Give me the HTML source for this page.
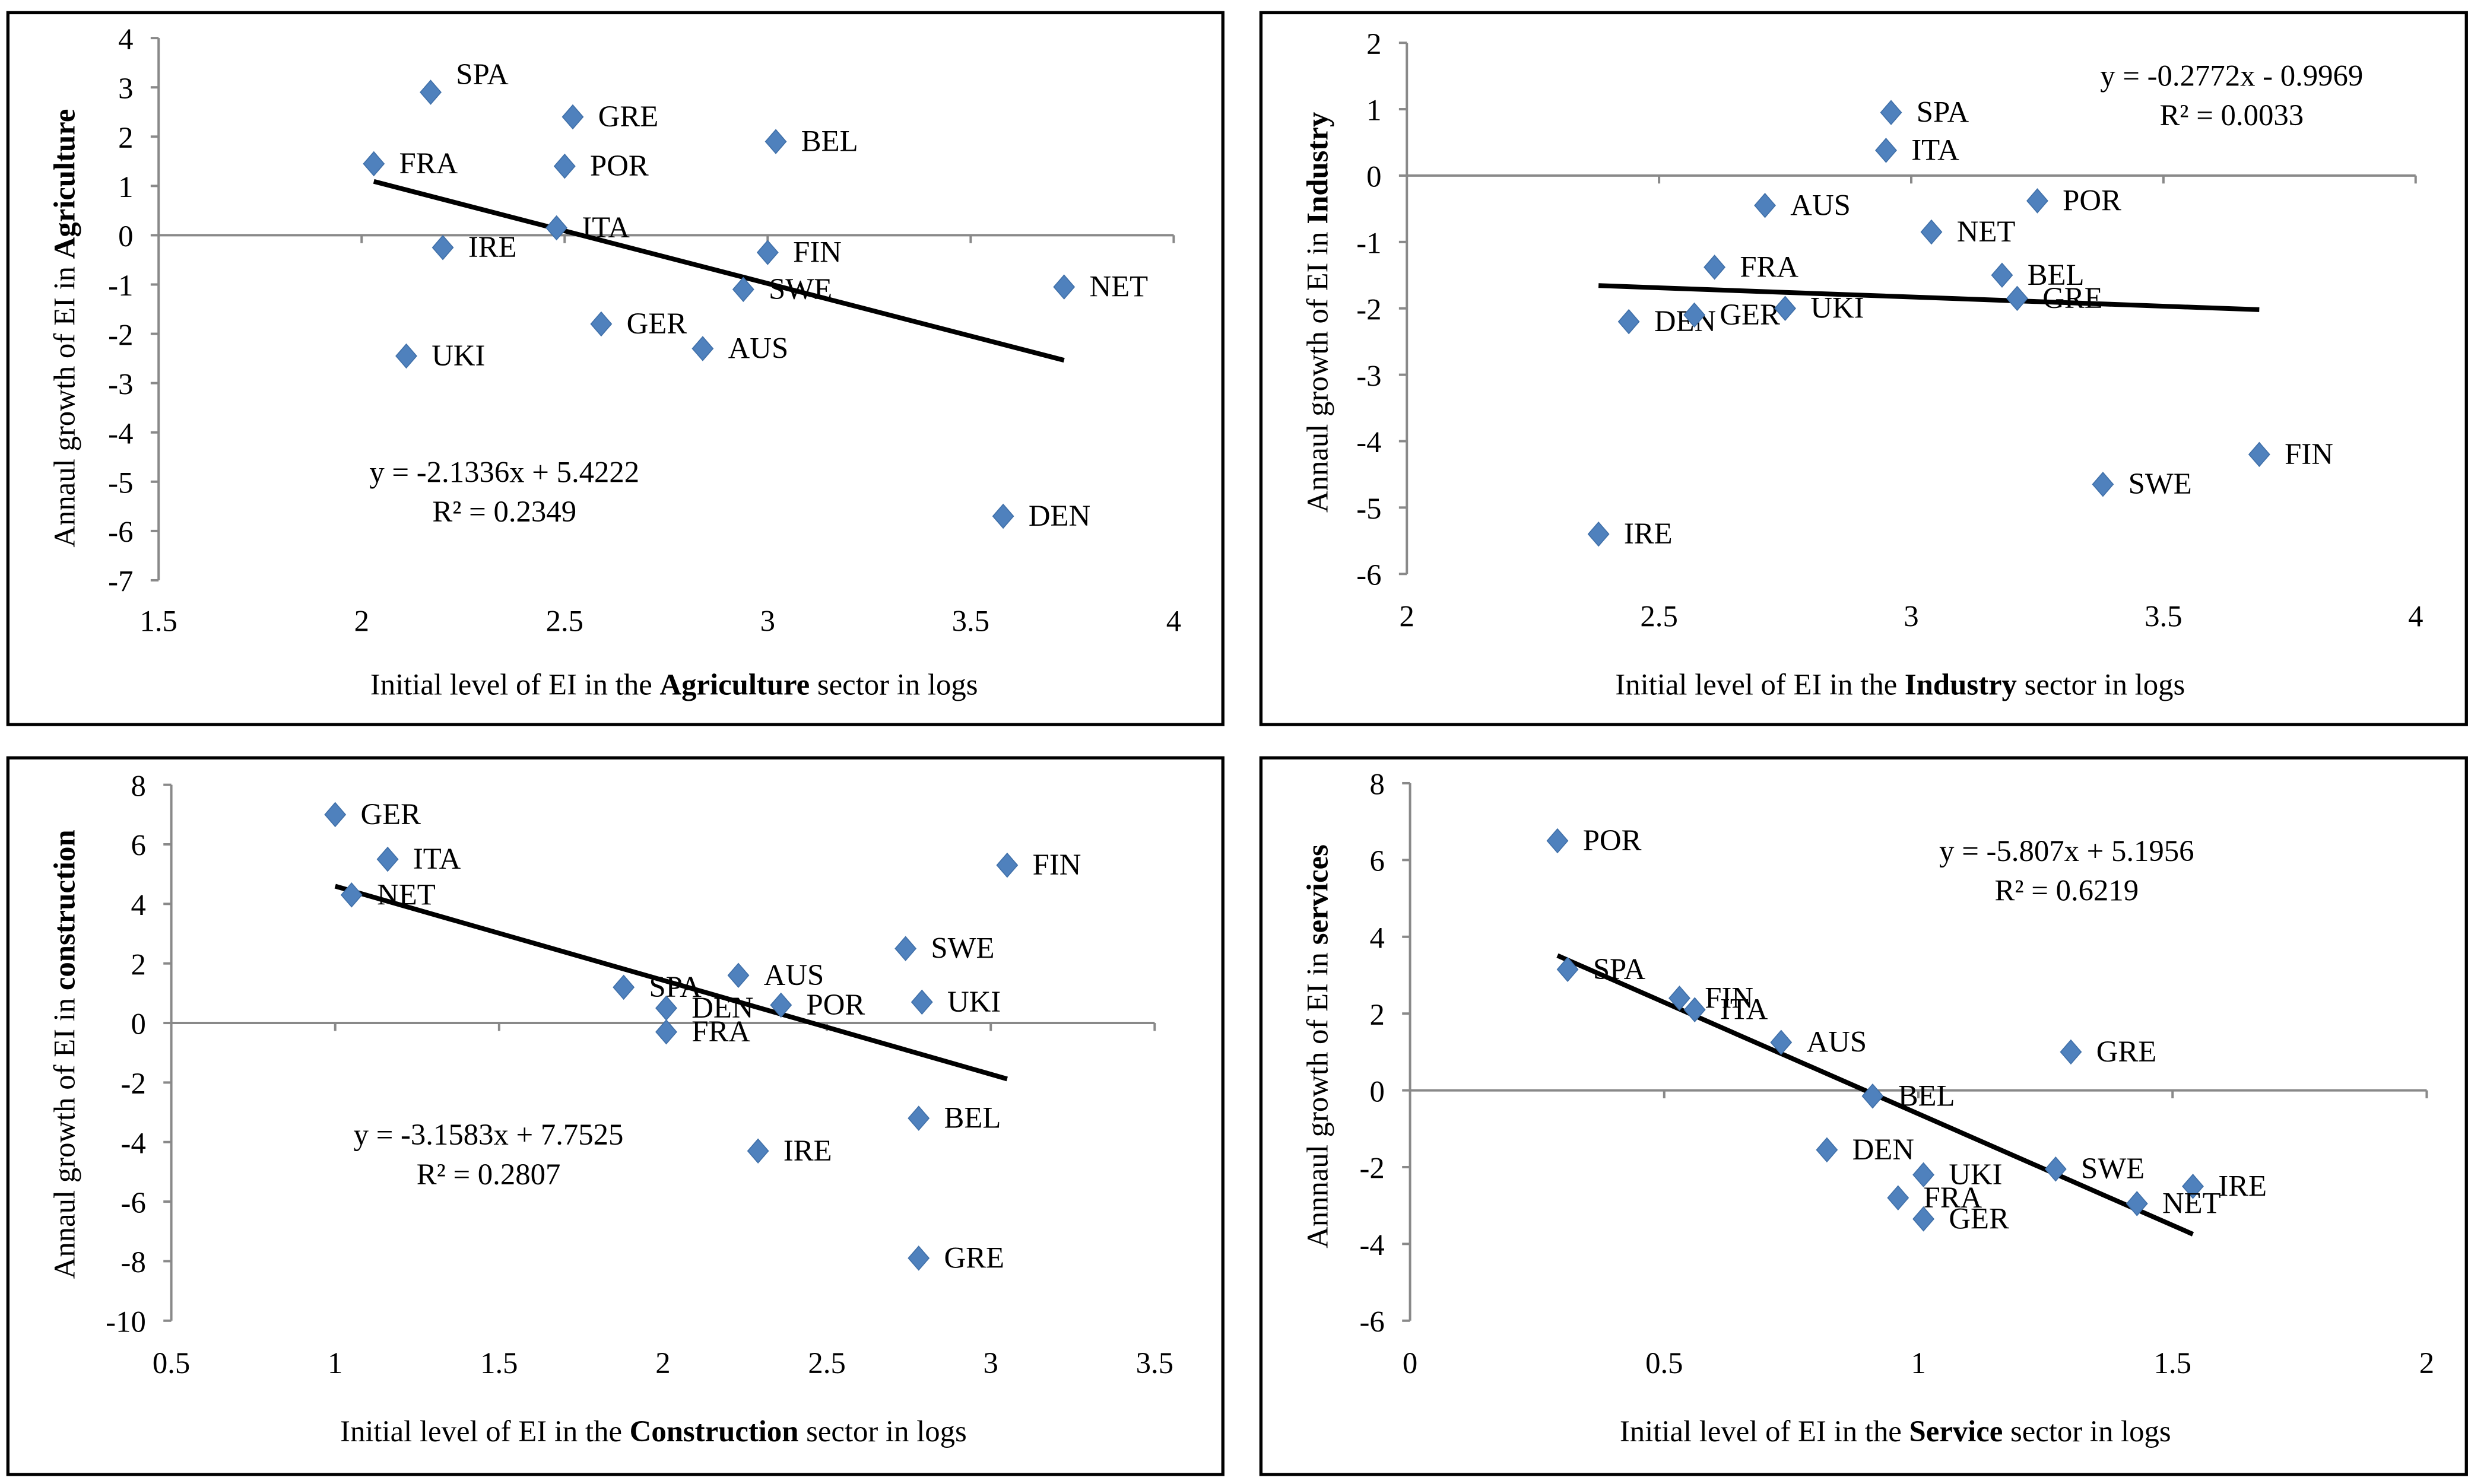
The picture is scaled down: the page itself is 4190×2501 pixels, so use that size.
<!DOCTYPE html>
<html><head><meta charset="utf-8"><style>
html,body{margin:0;padding:0;background:#fff;}
svg{display:block;font-family:"Liberation Serif",serif;}
</style></head><body>
<svg id="chart" width="4190" height="2501" viewBox="0 0 1568 936" preserveAspectRatio="none" xmlns="http://www.w3.org/2000/svg"></svg>
<script>
// Panel 1: Agriculture
const agriNames=["SPA","GRE","BEL","FRA","POR","ITA","IRE","FIN","SWE","NET","GER","AUS","UKI","DEN"];
const agriX=[2.17,2.52,3.02,2.03,2.5,2.48,2.2,3.0,2.94,3.73,2.59,2.84,2.11,3.58];
const agriY=[2.9,2.4,1.9,1.45,1.4,0.15,-0.25,-0.35,-1.1,-1.05,-1.8,-2.3,-2.45,-5.7];
const agriXTicks=[1.5,2,2.5,3,3.5,4];
const agriYTicks=[4,3,2,1,0,-1,-2,-3,-4,-5,-6,-7];
const agriTrend=[-2.1336,5.4222];
// Panel 2: Industry
const indNames=["SPA","ITA","AUS","POR","NET","FRA","BEL","DEN","GER","UKI","GRE","FIN","SWE","IRE"];
const indX=[2.96,2.95,2.71,3.25,3.04,2.61,3.18,2.44,2.57,2.75,3.21,3.69,3.38,2.38];
const indY=[0.95,0.38,-0.45,-0.38,-0.85,-1.38,-1.5,-2.2,-2.1,-2.0,-1.85,-4.2,-4.65,-5.4];
const indXTicks=[2,2.5,3,3.5,4];
const indYTicks=[2,1,0,-1,-2,-3,-4,-5,-6];
const indTrend=[-0.2772,-0.9969];
// Panel 3: Construction
const conNames=["GER","ITA","NET","FIN","SWE","SPA","AUS","DEN","POR","UKI","FRA","BEL","IRE","GRE"];
const conX=[1.0,1.16,1.05,3.05,2.74,1.88,2.23,2.01,2.36,2.79,2.01,2.78,2.29,2.78];
const conY=[7.0,5.5,4.3,5.3,2.5,1.2,1.6,0.5,0.6,0.7,-0.3,-3.2,-4.3,-7.9];
const conXTicks=[0.5,1,1.5,2,2.5,3,3.5];
const conYTicks=[8,6,4,2,0,-2,-4,-6,-8,-10];
const conTrend=[-3.1583,7.7525];
// Panel 4: Services
const serNames=["POR","SPA","FIN","ITA","AUS","GRE","BEL","DEN","UKI","SWE","IRE","NET","FRA","GER"];
const serX=[0.29,0.31,0.53,0.56,0.73,1.3,0.91,0.82,1.01,1.27,1.54,1.43,0.96,1.01];
const serY=[6.5,3.15,2.4,2.1,1.25,1.0,-0.15,-1.55,-2.2,-2.05,-2.5,-2.95,-2.8,-3.35];
const serXTicks=[0,0.5,1,1.5,2];
const serYTicks=[8,6,4,2,0,-2,-4,-6];
const serTrend=[-5.807,5.1956];

const NS="http://www.w3.org/2000/svg";
const svg=document.getElementById('chart');
function mk(tag,attrs,parent,text){const e=document.createElementNS(NS,tag);for(const k in attrs)e.setAttribute(k,attrs[k]);if(text!==undefined)e.textContent=text;(parent||svg).appendChild(e);return e;}

function panel(cfg){
  const g=mk('g',{});
  
  
  const b=mk('rect',{x:cfg.box[0],y:cfg.box[1],width:cfg.box[2],height:cfg.box[3],fill:'#fff',stroke:'#000','stroke-width':2},g);
  
  
  const [x0,x1,px0,px1]=cfg.xs, [y0,y1,py0,py1]=cfg.ys;
  const sx=v=>px0+(v-x0)*(px1-px0)/(x1-x0);
  const sy=v=>py0+(v-y0)*(py1-py0)/(y1-y0);
  const ax=cfg.xTicks, ay=cfg.yTicks;
  const yTop=sy(ay[0]), yBot=sy(ay[ay.length-1]);
  const yAxis=mk('line',{x1:sx(ax[0]),x2:sx(ax[0]),y1:yTop,y2:yBot,stroke:'#898989','stroke-width':1.5},g);
  
  
  const xAxis=mk('line',{x1:sx(ax[0]),x2:sx(ax[ax.length-1]),y1:sy(0),y2:sy(0),stroke:'#898989','stroke-width':1.5},g);
  
  
  ay.forEach(v=>{
    mk('line',{x1:sx(ax[0])-5,x2:sx(ax[0]),y1:sy(v),y2:sy(v),stroke:'#898989','stroke-width':1.5},g);
    const t=mk('text',{x:sx(ax[0])-16,y:sy(v)+7,'text-anchor':'end','font-size':19},g,String(v));
    
    
  });
  ax.forEach(v=>{
    if(v!==ax[0]) mk('line',{x1:sx(v),x2:sx(v),y1:sy(0),y2:sy(0)+5,stroke:'#898989','stroke-width':1.5},g);
    const t=mk('text',{x:sx(v),y:cfg.xTickY,'text-anchor':'middle','font-size':19},g,String(v));
    
    
  });
  const xmin=Math.min(...cfg.x), xmax=Math.max(...cfg.x);
  const f=v=>cfg.trend[0]*v+cfg.trend[1];
  const tl=mk('line',{x1:sx(xmin),y1:sy(f(xmin)),x2:sx(xmax),y2:sy(f(xmax)),stroke:'#000','stroke-width':3},g);
  
  
  cfg.x.forEach((xv,i)=>{
    const cx=sx(xv), cy=sy(cfg.y[i]);
    const p=mk('polygon',{points:`${cx},${cy-7.5} ${cx+6.5},${cy} ${cx},${cy+7.5} ${cx-6.5},${cy}`,fill:'#4f81bd',stroke:'#3f6fa8','stroke-width':0.6},g);
    
    
    const dy=(cfg.names[i]==='SPA'&&cfg.id==='agriculture')?-5:6;
    const t=mk('text',{x:cx+16,y:cy+dy,'font-size':19},g,cfg.names[i]);
    
    
  });
  const s=cfg.trend[1]<0?' - ':' + ';
  const eq=mk('text',{x:cfg.eq[0],y:cfg.eq[1],'text-anchor':'middle','font-size':19},g,`y = ${cfg.trend[0]}x${s}${Math.abs(cfg.trend[1])}`);
  
  
  const r2=mk('text',{x:cfg.eq[0],y:cfg.eq[1]+25,'text-anchor':'middle','font-size':19},g,'R² = '+cfg.r2);
  
  
  const xt=mk('text',{x:cfg.xTitle[0],y:cfg.xTitle[1],'text-anchor':'middle','font-size':19},g);
  
  
  mk('tspan',{},xt,'Initial level of EI in the ');
  mk('tspan',{'font-weight':'bold'},xt,cfg.xBold);
  mk('tspan',{},xt,' sector in logs');
  const yt=mk('text',{transform:`translate(${cfg.yTitle[0]},${cfg.yTitle[1]}) rotate(-90)`,'text-anchor':'middle','font-size':19},g);
  
  
  mk('tspan',{},yt,cfg.yPre+' growth of EI in ');
  mk('tspan',{'font-weight':'bold'},yt,cfg.yBold);
}

panel({id:'agriculture',box:[5,8,766,449],xs:[1.5,4,100,740],ys:[4,-7,24,366],names:agriNames,x:agriX,y:agriY,xTicks:agriXTicks,yTicks:agriYTicks,trend:agriTrend,r2:'0.2349',eq:[318,304],xTickY:398,xTitle:[425,438],xBold:'Agriculture',yTitle:[47,207],yPre:'Annaul',yBold:'Agriculture'});
panel({id:'industry',box:[795,8,760,449],xs:[2,4,887,1523],ys:[2,-6,27,362],names:indNames,x:indX,y:indY,xTicks:indXTicks,yTicks:indYTicks,trend:indTrend,r2:'0.0033',eq:[1407,54],xTickY:395,xTitle:[1198,438],xBold:'Industry',yTitle:[837,197],yPre:'Annaul',yBold:'Industry'});
panel({id:'construction',box:[5,478,766,452],xs:[0.5,3.5,108,728],ys:[8,-10,495,833],names:conNames,x:conX,y:conY,xTicks:conXTicks,yTicks:conYTicks,trend:conTrend,r2:'0.2807',eq:[308,722],xTickY:866,xTitle:[412,909],xBold:'Construction',yTitle:[47,665],yPre:'Annaul',yBold:'construction'});
panel({id:'services',box:[795,478,760,452],xs:[0,2,889,1530],ys:[8,-6,494,833],names:serNames,x:serX,y:serY,xTicks:serXTicks,yTicks:serYTicks,trend:serTrend,r2:'0.6219',eq:[1303,543],xTickY:866,xTitle:[1195,909],xBold:'Service',yTitle:[837,660],yPre:'Annnaul',yBold:'services'});
</script>
</body></html>
